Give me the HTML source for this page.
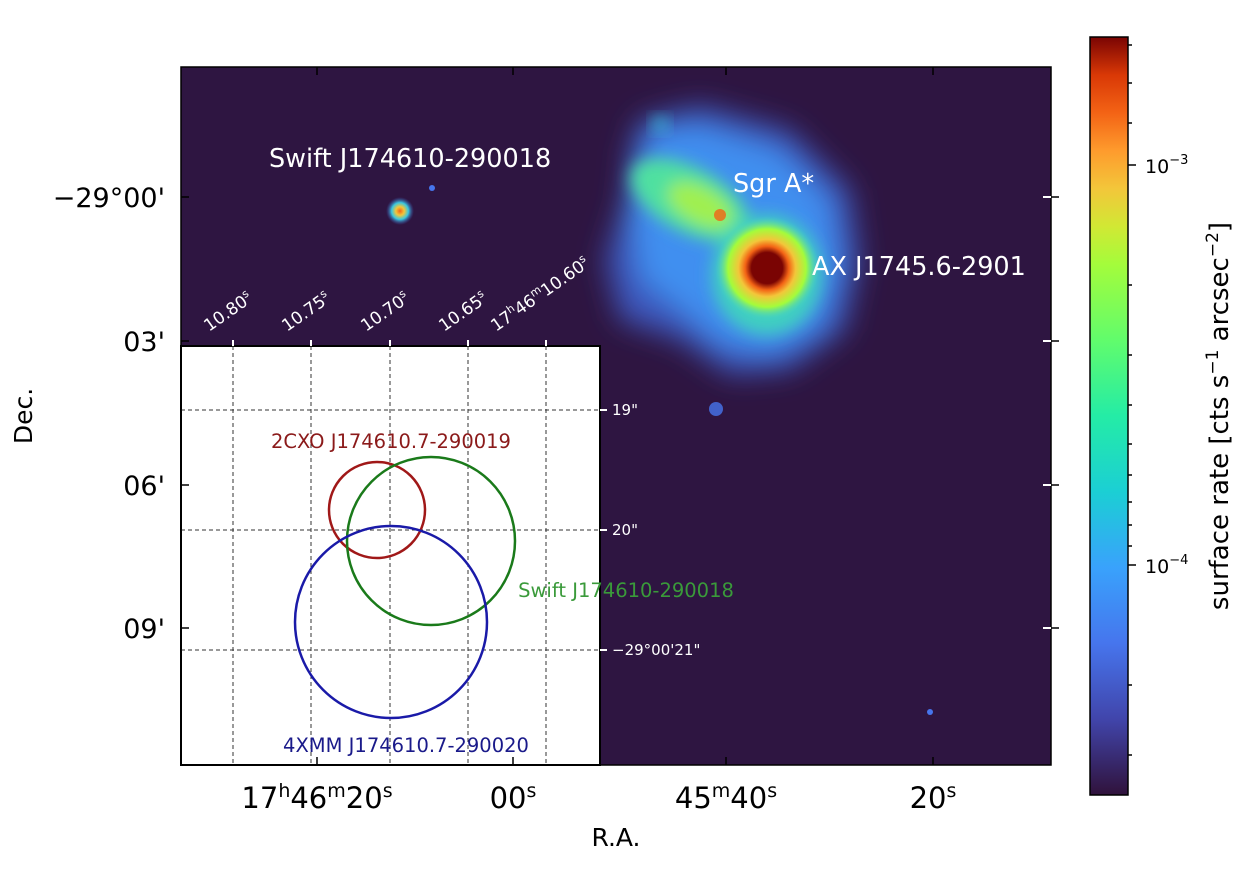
<!DOCTYPE html>
<html><head><style>
body{margin:0;background:#fff;width:1242px;height:881px;overflow:hidden;font-family:"DejaVu Sans","Liberation Sans",sans-serif}
</style></head><body>
<svg width="1242" height="881" xmlns="http://www.w3.org/2000/svg" font-family="DejaVu Sans, Liberation Sans, sans-serif">
<defs>
<linearGradient id="turbo" x1="0" y1="1" x2="0" y2="0">
<stop offset="0" stop-color="#30123b"/><stop offset="0.1" stop-color="#4145ab"/><stop offset="0.2" stop-color="#4675ed"/><stop offset="0.3" stop-color="#39a2fc"/><stop offset="0.4" stop-color="#1bcfd4"/><stop offset="0.5" stop-color="#24eca6"/><stop offset="0.6" stop-color="#61fc6c"/><stop offset="0.7" stop-color="#a4fc3b"/><stop offset="0.75" stop-color="#d1e834"/><stop offset="0.8" stop-color="#f3c63a"/><stop offset="0.85" stop-color="#fe9b2d"/><stop offset="0.9" stop-color="#f36315"/><stop offset="0.95" stop-color="#d93806"/><stop offset="1" stop-color="#7a0403"/>
</linearGradient>
<radialGradient id="core" cx="0.5" cy="0.5" r="0.5">
<stop offset="0" stop-color="#7a0403"/><stop offset="0.3" stop-color="#7a0403"/><stop offset="0.42" stop-color="#f36315"/><stop offset="0.55" stop-color="#f3c63a"/><stop offset="0.75" stop-color="#a4fc3b"/><stop offset="1" stop-color="#40d0d0" stop-opacity="0"/>
</radialGradient>
<radialGradient id="pt" cx="0.5" cy="0.5" r="0.5">
<stop offset="0" stop-color="#f36315"/><stop offset="0.3" stop-color="#f3c63a"/><stop offset="0.6" stop-color="#39c8e0"/><stop offset="1" stop-color="#4050b0" stop-opacity="0"/>
</radialGradient>
<filter id="b1" x="-50%" y="-50%" width="200%" height="200%"><feGaussianBlur stdDeviation="14"/></filter>
<filter id="b2" x="-50%" y="-50%" width="200%" height="200%"><feGaussianBlur stdDeviation="8"/></filter>
</defs>
<rect x="181" y="67" width="870" height="698" fill="#2e1541"/>
<g filter="url(#b1)">
<path d="M640 120 L700 105 L790 130 L850 190 L860 260 L845 330 L790 370 L730 375 L680 340 L620 320 L605 260 L625 200 L630 150 Z" fill="#4060d0" opacity="0.85"/>
<path d="M650 130 L700 125 L780 150 L830 200 L840 270 L820 330 L770 355 L720 345 L680 310 L640 280 L630 210 Z" fill="#3f8ff0"/>
</g>
<g filter="url(#b2)">
<ellipse cx="690" cy="200" rx="65" ry="32" fill="#50e0a0" transform="rotate(28 690 200)"/>
<ellipse cx="700" cy="205" rx="35" ry="18" fill="#a0f050" transform="rotate(28 700 205)"/>
<ellipse cx="767" cy="275" rx="55" ry="60" fill="#40d0c0"/>
</g>
<circle cx="767" cy="268" r="52" fill="url(#core)"/>
<circle cx="660" cy="124" r="7" fill="#39c8e0" filter="url(#b2)"/>
<circle cx="720" cy="215" r="6" fill="#f36315" opacity="0.8"/>
<circle cx="400" cy="211" r="14" fill="url(#pt)"/>
<circle cx="432" cy="188" r="3" fill="#4675ed"/>
<circle cx="716" cy="409" r="7" fill="#4675ed" opacity="0.8"/>
<circle cx="930" cy="712" r="3" fill="#4675ed"/>
<rect x="181" y="346" width="419" height="419" fill="#fff" stroke="#000" stroke-width="2"/>
<g stroke="#333" stroke-width="1" stroke-dasharray="4,3">
<line x1="233" y1="346" x2="233" y2="765"/><line x1="311" y1="346" x2="311" y2="765"/><line x1="390" y1="346" x2="390" y2="765"/><line x1="468" y1="346" x2="468" y2="765"/><line x1="546" y1="346" x2="546" y2="765"/>
<line x1="181" y1="410" x2="600" y2="410"/><line x1="181" y1="530" x2="600" y2="530"/><line x1="181" y1="650" x2="600" y2="650"/>
</g>
<g stroke="#fff" stroke-width="2">
<line x1="233" y1="340" x2="233" y2="346"/><line x1="311" y1="340" x2="311" y2="346"/><line x1="390" y1="340" x2="390" y2="346"/><line x1="468" y1="340" x2="468" y2="346"/><line x1="546" y1="340" x2="546" y2="346"/>
<line x1="600" y1="410" x2="607" y2="410"/><line x1="600" y1="530" x2="607" y2="530"/><line x1="600" y1="650" x2="607" y2="650"/>
</g>
<circle cx="377" cy="510" r="48" fill="none" stroke="#a01818" stroke-width="2.5"/>
<circle cx="431" cy="541" r="84" fill="none" stroke="#1a7a1a" stroke-width="2.5"/>
<circle cx="391" cy="622" r="96" fill="none" stroke="#1a1aa8" stroke-width="2.5"/>
<text x="391" y="448" font-size="19.5" fill="#8b1a1a" text-anchor="middle">2CXO J174610.7-290019</text>
<text x="626" y="597" font-size="19.5" fill="#3a9a3a" text-anchor="middle">Swift J174610-290018</text>
<text x="406" y="752" font-size="19.5" fill="#1a1a8a" text-anchor="middle">4XMM J174610.7-290020</text>
<g fill="#fff" font-size="15">
<text x="612" y="415">19"</text><text x="612" y="535">20"</text><text x="612" y="655">−29°00'21"</text>
</g>
<g fill="#fff" font-size="17">
<text transform="translate(209 332) rotate(-35)">10.80<tspan font-size="11" dy="-7">s</tspan></text>
<text transform="translate(287 332) rotate(-35)">10.75<tspan font-size="11" dy="-7">s</tspan></text>
<text transform="translate(366 332) rotate(-35)">10.70<tspan font-size="11" dy="-7">s</tspan></text>
<text transform="translate(444 332) rotate(-35)">10.65<tspan font-size="11" dy="-7">s</tspan></text>
<text transform="translate(496 332) rotate(-35)">17<tspan font-size="11" dy="-7">h</tspan><tspan dy="7">46</tspan><tspan font-size="11" dy="-7">m</tspan><tspan dy="7">10.60</tspan><tspan font-size="11" dy="-7">s</tspan></text>
</g>
<g fill="#fff" font-size="25.5">
<text x="269" y="167">Swift J174610-290018</text>
<text x="733" y="192">Sgr A*</text>
<text x="812" y="275">AX J1745.6-2901</text>
</g>
<rect x="181" y="67" width="870" height="698" fill="none" stroke="#000" stroke-width="1.5"/>
<g stroke="#000" stroke-width="1.5">
<line x1="317" y1="67" x2="317" y2="75"/><line x1="513" y1="67" x2="513" y2="75"/><line x1="726" y1="67" x2="726" y2="75"/><line x1="933" y1="67" x2="933" y2="75"/>
<line x1="317" y1="765" x2="317" y2="757"/><line x1="513" y1="765" x2="513" y2="757"/><line x1="726" y1="765" x2="726" y2="757"/><line x1="933" y1="765" x2="933" y2="757"/>
<line x1="181" y1="197" x2="189" y2="197"/><line x1="181" y1="341" x2="189" y2="341"/><line x1="181" y1="485" x2="189" y2="485"/><line x1="181" y1="628" x2="189" y2="628"/>
<line x1="1051" y1="197" x2="1059" y2="197"/><line x1="1051" y1="341" x2="1059" y2="341"/><line x1="1051" y1="485" x2="1059" y2="485"/><line x1="1051" y1="628" x2="1059" y2="628"/>
</g>
<g fill="#fff"><rect x="1043" y="196" width="8" height="2"/><rect x="1043" y="340" width="8" height="2"/><rect x="1043" y="484" width="8" height="2"/><rect x="1043" y="627" width="8" height="2"/></g>
<g font-size="29" fill="#000">
<text x="317" y="808" text-anchor="middle">17<tspan font-size="19" dy="-11">h</tspan><tspan dy="11">46</tspan><tspan font-size="19" dy="-11">m</tspan><tspan dy="11">20</tspan><tspan font-size="19" dy="-11">s</tspan></text>
<text x="513" y="808" text-anchor="middle">00<tspan font-size="19" dy="-11">s</tspan></text>
<text x="726" y="808" text-anchor="middle">45<tspan font-size="19" dy="-11">m</tspan><tspan dy="11">40</tspan><tspan font-size="19" dy="-11">s</tspan></text>
<text x="933" y="808" text-anchor="middle">20<tspan font-size="19" dy="-11">s</tspan></text>
</g>
<g font-size="27" fill="#000">
<text x="165" y="207" text-anchor="end">−29°00'</text>
<text x="165" y="351" text-anchor="end">03'</text>
<text x="165" y="495" text-anchor="end">06'</text>
<text x="165" y="638" text-anchor="end">09'</text>
<text x="616" y="846" text-anchor="middle" font-size="25">R.A.</text>
<text transform="translate(32 416) rotate(-90)" text-anchor="middle" font-size="25">Dec.</text>
</g>
<rect x="1090" y="37" width="38" height="758" fill="url(#turbo)" stroke="#000" stroke-width="1.5"/>
<g stroke="#000" stroke-width="1.5">
<line x1="1128" y1="165" x2="1136" y2="165"/><line x1="1128" y1="565" x2="1136" y2="565"/>
<line x1="1128" y1="45" x2="1132" y2="45"/><line x1="1128" y1="83" x2="1132" y2="83"/><line x1="1128" y1="123" x2="1132" y2="123"/>
<line x1="1128" y1="285" x2="1132" y2="285"/><line x1="1128" y1="355" x2="1132" y2="355"/><line x1="1128" y1="405" x2="1132" y2="405"/><line x1="1128" y1="444" x2="1132" y2="444"/><line x1="1128" y1="475" x2="1132" y2="475"/><line x1="1128" y1="502" x2="1132" y2="502"/><line x1="1128" y1="525" x2="1132" y2="525"/><line x1="1128" y1="546" x2="1132" y2="546"/>
<line x1="1128" y1="685" x2="1132" y2="685"/><line x1="1128" y1="755" x2="1132" y2="755"/>
</g>
<g font-size="19" fill="#000">
<text x="1145" y="173">10<tspan font-size="13" dy="-9">−3</tspan></text>
<text x="1145" y="573">10<tspan font-size="13" dy="-9">−4</tspan></text>
</g>
<text transform="translate(1228 416) rotate(-90)" text-anchor="middle" font-size="26" fill="#000">surface rate [cts s<tspan font-size="17" dy="-10">−1</tspan><tspan dy="10"> arcsec</tspan><tspan font-size="17" dy="-10">−2</tspan><tspan dy="10">]</tspan></text>
</svg>
</body></html>
